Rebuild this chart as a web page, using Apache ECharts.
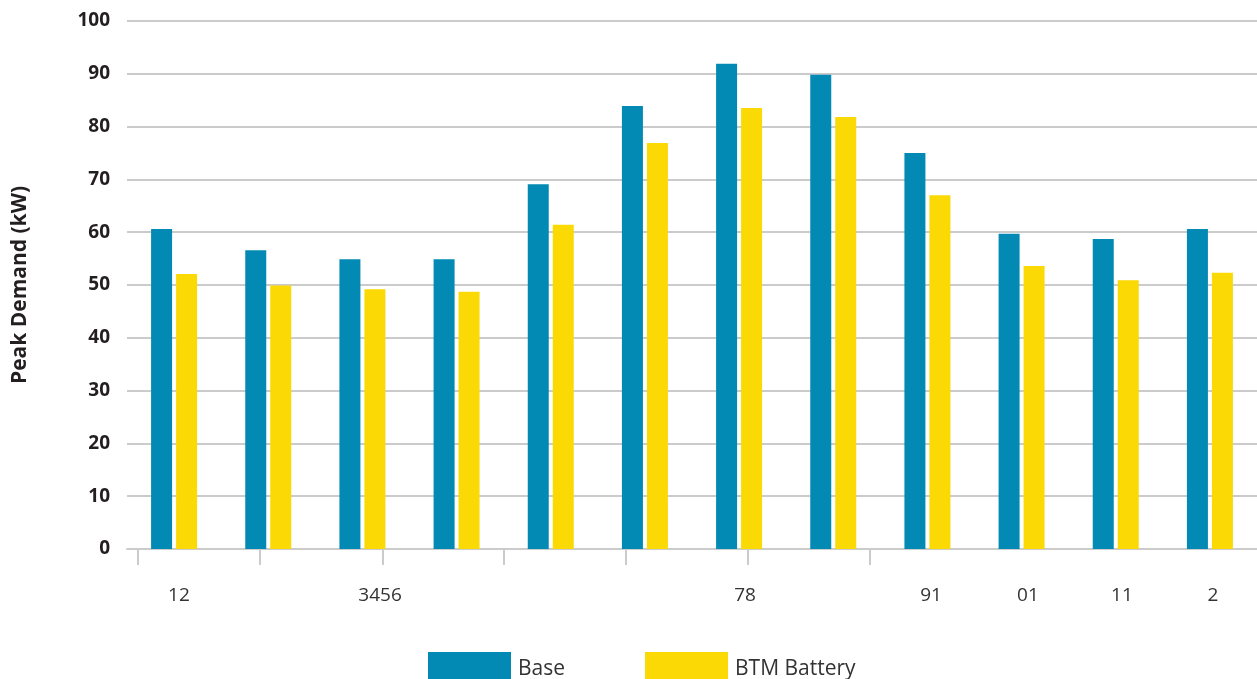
<!DOCTYPE html>
<html>
<head>
<meta charset="utf-8">
<script src="https://cdn.jsdelivr.net/npm/echarts@6/dist/echarts.min.js"></script>
<style>
  html, body { margin: 0; padding: 0; background: #ffffff; }
  #chart { width: 1257px; height: 679px; }
</style>
</head>
<body>
<div id="chart"></div>
<script>
// Twelve bar groups, one per month slot
const categories = ['1', '2', '3', '4', '5', '6', '7', '8', '9', '10', '11', '12'];
const baseValues = [60.6, 56.6, 54.9, 54.9, 69.1, 83.9, 91.9, 89.8, 75.0, 59.7, 58.7, 60.6];
const batteryValues = [52.1, 49.9, 49.2, 48.7, 61.4, 76.9, 83.5, 81.8, 67.0, 53.6, 50.9, 52.3];

// Bottom scale ticks and labels, in category-band units (0 to 12)
const tickPositions = [0.117, 1.412, 2.718, 4.003, 5.299, 6.594, 7.890];
const labelPositions = [0.552, 2.687, 6.563, 8.538, 9.568, 10.566, 11.532];
const labelTexts = ['12', '3456', '78', '91', '01', '11', '2'];

const yTicks = { min: 0, max: 100, interval: 10 };

const BLUE = '#028ab4';
const YELLOW = '#fad904';
const GRID_GREY = '#cbcbcb';
const FONT = '"Open Sans", "DejaVu Sans", sans-serif';

const chart = echarts.init(document.getElementById('chart'), null, { renderer: 'canvas' });

chart.setOption({
  animation: false,
  grid: { left: 127, right: 0, top: 21, bottom: 130, containLabel: false },
  legend: {
    left: 428,
    top: 652,
    padding: 0,
    itemWidth: 83,
    itemHeight: 27,
    itemGap: 80,
    icon: 'rect',
    formatter: '{t|{name}}',
    textStyle: {
      fontFamily: FONT,
      fontSize: 21,
      color: '#333333',
      rich: {
        t: { fontFamily: FONT, fontSize: 21, color: '#333333', padding: [8, 0, 0, 2] }
      }
    },
    data: ['Base', 'BTM Battery']
  },
  xAxis: [
    {
      type: 'category',
      position: 'bottom',
      data: categories,
      axisLine: { show: true, lineStyle: { color: GRID_GREY, width: 2 } },
      axisTick: { show: false },
      axisLabel: { show: false },
      splitLine: { show: false }
    },
    {
      type: 'value',
      position: 'bottom',
      min: 0,
      max: categories.length,
      axisLine: { show: false },
      splitLine: { show: false },
      axisTick: {
        show: true,
        length: 16,
        customValues: tickPositions,
        lineStyle: { color: GRID_GREY, width: 2 }
      },
      axisLabel: {
        show: true,
        margin: 37,
        customValues: labelPositions,
        fontFamily: FONT,
        fontSize: 19,
        color: '#333333',
        formatter: function (v) {
          let best = 0;
          for (let i = 1; i < labelPositions.length; i++) {
            if (Math.abs(labelPositions[i] - v) < Math.abs(labelPositions[best] - v)) best = i;
          }
          return labelTexts[best];
        }
      }
    }
  ],
  yAxis: {
    type: 'value',
    min: yTicks.min,
    max: yTicks.max,
    interval: yTicks.interval,
    name: 'Peak Demand (kW)',
    nameLocation: 'middle',
    nameRotate: 90,
    nameGap: 96,
    nameTextStyle: { fontFamily: FONT, fontSize: 21, fontWeight: 'bold', color: '#231f20' },
    axisLine: { show: false },
    axisTick: { show: false },
    axisLabel: { margin: 17, fontFamily: FONT, fontSize: 19, fontWeight: 'bold', color: '#231f20' },
    splitLine: { show: true, lineStyle: { color: GRID_GREY, width: 2 } }
  },
  series: [
    {
      name: 'Base',
      type: 'bar',
      xAxisIndex: 0,
      data: baseValues,
      barWidth: 21,
      barGap: '19%',
      itemStyle: { color: BLUE }
    },
    {
      name: 'BTM Battery',
      type: 'bar',
      xAxisIndex: 0,
      data: batteryValues,
      barWidth: 21,
      barGap: '19%',
      itemStyle: { color: YELLOW }
    }
  ]
});
</script>
</body>
</html>
